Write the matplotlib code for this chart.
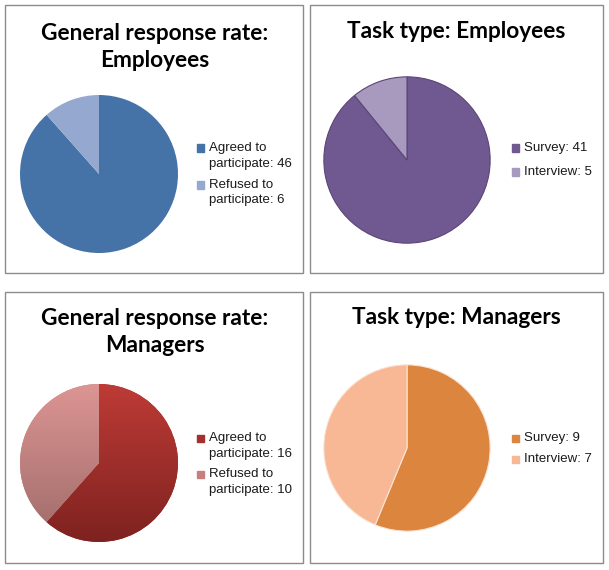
"""Four pie charts: response rate and task type for employees and managers."""
import matplotlib
matplotlib.use("Agg")
import matplotlib.pyplot as plt
import numpy as np
from matplotlib.colors import LinearSegmentedColormap
from matplotlib.patches import Rectangle

TITLES = [
    "General response rate:\nEmployees",
    "Task type: Employees",
    "General response rate:\nManagers",
    "Task type: Managers",
]
RESP_LABELS = ["Agreed to\nparticipate", "Refused to\nparticipate"]
TASK_LABELS = ["Survey", "Interview"]
EMP_RESPONSE = [46, 6]
EMP_TASK = [41, 5]
MGR_RESPONSE = [16, 10]
MGR_TASK = [9, 7]

W, H = 609, 570
BORDER = "#8C8C8C"


def fx(x):
    return x / W


def fy(y):
    return 1 - y / H


def pie_axes(fig, cx, cy, r):
    ax = fig.add_axes([fx(cx - r), fy(cy + r), 2 * r / W, 2 * r / H])
    ax.axis("off")
    return ax


def fix_limits(ax):
    ax.set_xlim(-1, 1)
    ax.set_ylim(-1, 1)
    ax.set_aspect("equal")


def legend(fig, x, ys, labels, values, colors, line_h=15.5):
    for y, lab, v, c in zip(ys, labels, values, colors):
        fig.patches.append(Rectangle((fx(x - 3.5), fy(y + 3.5)), 7 / W, 7 / H,
                                     transform=fig.transFigure, color=c, zorder=3))
        for i, line in enumerate(f"{lab}: {v}".split("\n")):
            fig.text(fx(x + 9), fy(y + i * line_h), line, ha="left", va="center",
                     fontsize=9.5, family="Liberation Sans", color="#1a1a1a")


def main():
    fig = plt.figure(figsize=(W / 100, H / 100), dpi=100)

    # panel borders
    for (x0, y0, x1, y1) in [(5, 5, 303, 273), (310, 5, 603, 273),
                             (5, 292, 303, 563), (310, 292, 603, 563)]:
        fig.patches.append(Rectangle((fx(x0), fy(y1)), (x1 - x0) / W, (y1 - y0) / H,
                                     transform=fig.transFigure, fill=False,
                                     edgecolor=BORDER, linewidth=1.0))

    tkw = dict(ha="center", va="center", fontsize=16.3, fontweight="bold",
               family="Lato", linespacing=1.4, color="black")
    fig.text(fx(155), fy(47), TITLES[0], **tkw)
    fig.text(fx(456), fy(32), TITLES[1], **tkw)
    fig.text(fx(155), fy(332), TITLES[2], **tkw)
    fig.text(fx(456), fy(318), TITLES[3], **tkw)

    # panel 1
    ax = pie_axes(fig, 99, 174, 79)
    ax.pie(EMP_RESPONSE, colors=["#4573A7", "#95A9D0"], startangle=90,
           counterclock=False, radius=1, wedgeprops=dict(linewidth=0))
    fix_limits(ax)
    legend(fig, 200, [148, 185], RESP_LABELS, EMP_RESPONSE, ["#4573A7", "#95A9D0"])

    # panel 2
    ax = pie_axes(fig, 407, 160, 84)
    ax.pie(EMP_TASK, colors=["#705891", "#A899BF"], startangle=90,
           counterclock=False, radius=0.99,
           wedgeprops=dict(linewidth=0.8, edgecolor="#5B4677"))
    fix_limits(ax)
    legend(fig, 515, [148, 172], TASK_LABELS, EMP_TASK, ["#705891", "#A899BF"])

    # panel 3 (vertical gradient fill)
    ax = pie_axes(fig, 99, 463, 79)
    wedges, _ = ax.pie(MGR_RESPONSE, colors=["#A52F2C", "#C5807E"], startangle=90,
                       counterclock=False, radius=1, wedgeprops=dict(linewidth=0))
    grads = [("#BE3B36", "#7E2220"), ("#DC9593", "#9E6B69")]
    grad = np.linspace(0, 1, 256).reshape(-1, 1)
    for w, (top, bot) in zip(wedges, grads):
        cmap = LinearSegmentedColormap.from_list("g", [top, bot])
        im = ax.imshow(grad, cmap=cmap, extent=[-1, 1, -1, 1], origin="upper",
                       aspect="auto", zorder=2)
        im.set_clip_path(w)
    fix_limits(ax)
    legend(fig, 200, [438, 474], RESP_LABELS, MGR_RESPONSE, ["#A52F2C", "#C5807E"])

    # panel 4
    ax = pie_axes(fig, 407, 448, 84)
    ax.pie(MGR_TASK, colors=["#DB853F", "#F8B795"], startangle=90,
           counterclock=False, radius=0.99,
           wedgeprops=dict(linewidth=0.8, edgecolor="#FBE3D4"))
    fix_limits(ax)
    legend(fig, 515, [438, 459], TASK_LABELS, MGR_TASK, ["#DB853F", "#F8B795"])

    fig.savefig("out.png", dpi=100)
    plt.close(fig)


if __name__ == "__main__":
    main()
